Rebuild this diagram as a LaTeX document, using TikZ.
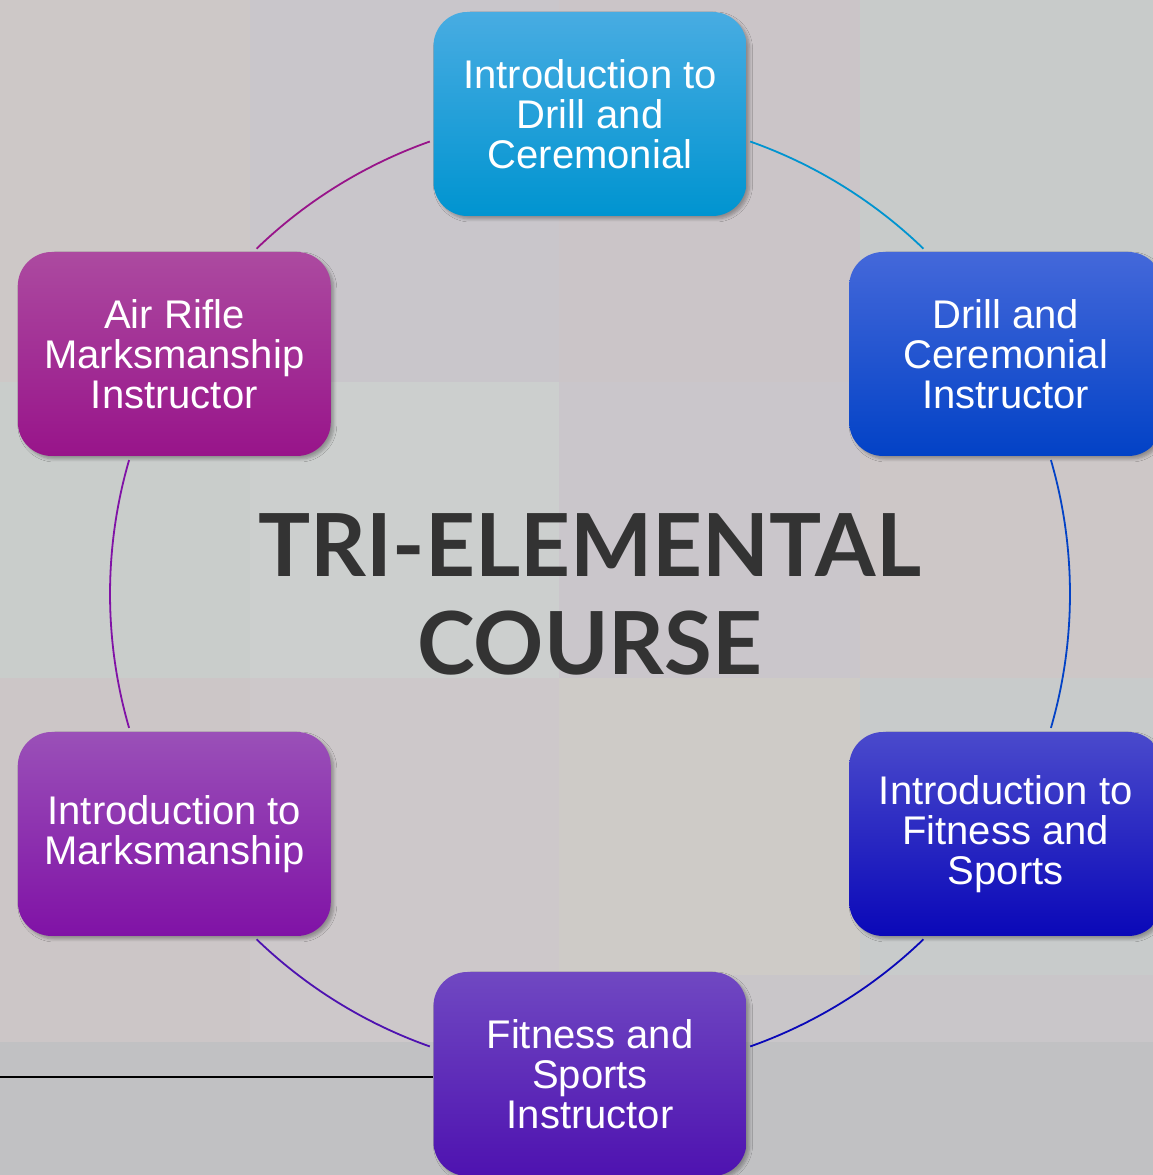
\documentclass[tikz,border=0pt]{standalone}
\usepackage{fontspec}
\usepackage{xcolor}
\usepackage{tikz}
\usetikzlibrary{positioning,calc,shadows.blur}

\newfontfamily\boxfont{Liberation Sans}
\newfontfamily\titlefont{Lato}

\definecolor{introDrillTop}{HTML}{48ACE2}
\definecolor{introDrillBot}{HTML}{0094D0}
\definecolor{drillInstTop}{HTML}{4468DA}
\definecolor{drillInstBot}{HTML}{0242C6}
\definecolor{introFitTop}{HTML}{4A4ACC}
\definecolor{introFitBot}{HTML}{0A08B8}
\definecolor{fitInstTop}{HTML}{7048C2}
\definecolor{fitInstBot}{HTML}{4E12B0}
\definecolor{introMarkTop}{HTML}{9A50B8}
\definecolor{introMarkBot}{HTML}{8012A6}
\definecolor{rifleInstTop}{HTML}{AC4AA0}
\definecolor{rifleInstBot}{HTML}{98148A}
\definecolor{titleGray}{HTML}{333333}

\begin{document}
\begin{tikzpicture}[
            x=1pt, y=1pt,
            every node/.style={font=\boxfont\fontsize{40}{40}\selectfont},
            course/.style={rounded corners=34pt, minimum width=313pt, minimum height=204pt,
                align=center, text=white,
                blur shadow={shadow xshift=3pt, shadow yshift=-3pt, shadow blur radius=3pt, shadow blur steps=6, shadow opacity=30}},
            ring/.style={line width=1.8pt},
            tile/.style={draw=none},
        ]
            \useasboundingbox (0,0) rectangle (1153,1175);
            % faded photo collage behind the cycle
            \fill[tile, fill={rgb,255:red,202;green,199;blue,202}] (0,0) rectangle (1153,1175);
            \fill[tile, fill={rgb,255:red,205;green,200;blue,199}] (0,793) rectangle (250,1175);
            \fill[tile, fill={rgb,255:red,201;green,198;blue,203}] (250,793) rectangle (559,1175);
            \fill[tile, fill={rgb,255:red,203;green,197;blue,200}] (559,793) rectangle (860,1175);
            \fill[tile, fill={rgb,255:red,200;green,203;blue,202}] (860,793) rectangle (1153,1175);
            \fill[tile, fill={rgb,255:red,201;green,205;blue,203}] (0,497) rectangle (250,793);
            \fill[tile, fill={rgb,255:red,204;green,207;blue,206}] (250,497) rectangle (559,793);
            \fill[tile, fill={rgb,255:red,202;green,198;blue,203}] (559,497) rectangle (860,793);
            \fill[tile, fill={rgb,255:red,205;green,199;blue,199}] (860,497) rectangle (1153,793);
            \fill[tile, fill={rgb,255:red,204;green,198;blue,199}] (0,133) rectangle (250,497);
            \fill[tile, fill={rgb,255:red,205;green,200;blue,202}] (250,133) rectangle (559,497);
            \fill[tile, fill={rgb,255:red,206;green,203;blue,199}] (559,200) rectangle (860,497);
            \fill[tile, fill={rgb,255:red,200;green,203;blue,203}] (860,200) rectangle (1153,497);
            \fill[tile, fill={rgb,255:red,201;green,198;blue,201}] (559,133) rectangle (1153,200);
            \fill[tile, fill={rgb,255:red,193;green,193;blue,195}] (0,0) rectangle (1153,133);

            \coordinate (hub) at (590,581);

            % the six course boxes, clockwise from the top
            \node[course, top color=introDrillTop, bottom color=introDrillBot] (introDrill) at ($(hub)+(90:480)$) {Introduction to\\Drill and\\Ceremonial};
            \node[course, top color=drillInstTop, bottom color=drillInstBot] (drillInst) at ($(hub)+(30:480)$) {Drill and\\Ceremonial\\Instructor};
            \node[course, top color=introFitTop, bottom color=introFitBot] (introFit) at ($(hub)+(-30:480)$) {Introduction to\\Fitness and\\Sports};
            \node[course, top color=fitInstTop, bottom color=fitInstBot] (fitInst) at ($(hub)+(-90:480)$) {Fitness and\\Sports\\Instructor};
            \node[course, top color=introMarkTop, bottom color=introMarkBot] (introMark) at ($(hub)+(-150:480)$) {Introduction to\\Marksmanship};
            \node[course, top color=rifleInstTop, bottom color=rifleInstBot] (rifleInst) at ($(hub)+(150:480)$) {Air Rifle\\Marksmanship\\Instructor};

            % ring segments between the boxes
            \draw[ring, introDrillBot] (hub) ++(70.5:480) arc[start angle=70.5, end angle=46, radius=480];
            \draw[ring, drillInstBot] (hub) ++(16.2:480) arc[start angle=16.2, end angle=-16.2, radius=480];
            \draw[ring, introFitBot] (hub) ++(-46:480) arc[start angle=-46, end angle=-70.5, radius=480];
            \draw[ring, fitInstBot] (hub) ++(-109.5:480) arc[start angle=-109.5, end angle=-134, radius=480];
            \draw[ring, introMarkBot] (hub) ++(-163.8:480) arc[start angle=-163.8, end angle=-196.2, radius=480];
            \draw[ring, rifleInstBot] (hub) ++(134:480) arc[start angle=134, end angle=109.5, radius=480];

            \node[font=\titlefont\bfseries\fontsize{87}{98}\selectfont, text=titleGray, align=center] (title) at (hub) {TRI-ELEMENTAL\\COURSE};

            \coordinate (rule) at (0,98);
            \draw[line width=2.8pt] (rule) -- (rule -| fitInst.west);
        \end{tikzpicture}
\end{document}
